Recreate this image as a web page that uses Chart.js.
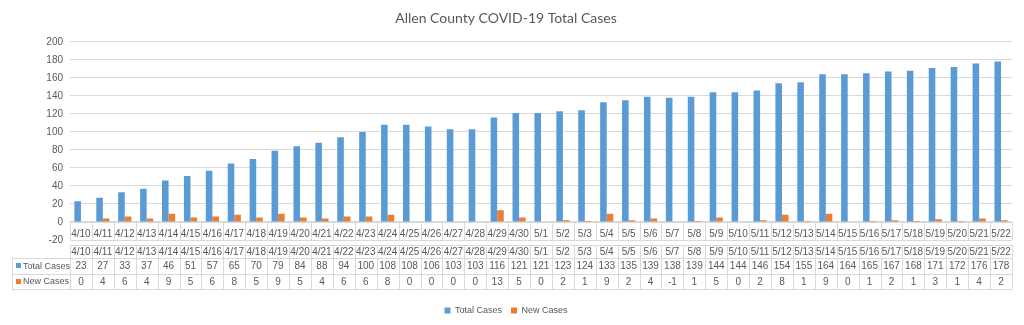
<!DOCTYPE html>
<html>
<head>
<meta charset="utf-8">
<title>Allen County COVID-19 Total Cases</title>
<script src="https://cdn.jsdelivr.net/npm/chart.js@4.4.1/dist/chart.umd.min.js"></script>
<style>
    html, body { margin: 0; padding: 0; background: #fff; }
    #wrap { width: 1024px; height: 325px; position: relative; }
</style>
</head>
<body>
<div id="wrap"><canvas id="casesChart" width="1024" height="325"></canvas></div>
<script>
const dates = [
    '4/10', '4/11', '4/12', '4/13', '4/14', '4/15', '4/16', '4/17', '4/18', '4/19', '4/20',
    '4/21', '4/22', '4/23', '4/24', '4/25', '4/26', '4/27', '4/28', '4/29', '4/30',
    '5/1', '5/2', '5/3', '5/4', '5/5', '5/6', '5/7', '5/8', '5/9', '5/10', '5/11',
    '5/12', '5/13', '5/14', '5/15', '5/16', '5/17', '5/18', '5/19', '5/20', '5/21', '5/22'
];
const totalCases = [
    23, 27, 33, 37, 46, 51, 57, 65, 70, 79, 84, 88, 94, 100, 108, 108, 106, 103, 103, 116, 121,
    121, 123, 124, 133, 135, 139, 138, 139, 144, 144, 146, 154, 155, 164, 164, 165, 167, 168, 171, 172, 176, 178
];
const newCases = [
    0, 4, 6, 4, 9, 5, 6, 8, 5, 9, 5, 4, 6, 6, 8, 0, 0, 0, 0, 13, 5,
    0, 2, 1, 9, 2, 4, -1, 1, 5, 0, 2, 8, 1, 9, 0, 1, 2, 1, 3, 1, 4, 2
];
const yTicks = { min: -20, max: 200, step: 20 };

const COLORS = {
    total: '#5B9BD5',
    fresh: '#ED7D31',
    grid: '#D9D9D9',
    text: '#595959',
};
const TITLE_FONT = 'Lato, "Liberation Sans", sans-serif';
const FONT = '"Liberation Sans", Arial, sans-serif';

// draws the category labels on the zero line and the Excel-style data table
const dataTablePlugin = {
    id: 'dataTable',
    afterDatasetsDraw(chart) {
        const { ctx, chartArea, scales: { x, y } } = chart;
        const n = dates.length;
        const cellW = (chartArea.right - chartArea.left) / n;
        const zeroY = y.getPixelForValue(0);
        const minY = y.getPixelForValue(yTicks.min);
        ctx.save();
        ctx.font = '10px ' + FONT;
        ctx.fillStyle = COLORS.text;
        ctx.textAlign = 'center';
        ctx.textBaseline = 'middle';

        // axis line + tick marks + labels at zero
        ctx.strokeStyle = COLORS.grid;
        ctx.lineWidth = 1;
        ctx.beginPath();
        ctx.moveTo(chartArea.left, Math.round(zeroY) + 0.5);
        ctx.lineTo(chartArea.right, Math.round(zeroY) + 0.5);
        for (let i = 0; i <= n; i++) {
            const px = Math.round(chartArea.left + i * cellW) + 0.5;
            ctx.moveTo(px, zeroY);
            ctx.lineTo(px, minY);
        }
        ctx.stroke();
        dates.forEach((d, i) => ctx.fillText(d, x.getPixelForValue(i), zeroY + 12));

        // data table
        const top = chartArea.bottom + 5;
        const rowH = [13, 16, 15];
        const r1 = top + rowH[0], r2 = r1 + rowH[1], r3 = r2 + rowH[2];
        const legendLeft = 12;
        ctx.beginPath();
        ctx.moveTo(chartArea.left, top + 0.5); ctx.lineTo(chartArea.right, top + 0.5);
        ctx.moveTo(legendLeft, r1 + 0.5); ctx.lineTo(chartArea.right, r1 + 0.5);
        ctx.moveTo(legendLeft, r2 + 0.5); ctx.lineTo(chartArea.right, r2 + 0.5);
        ctx.moveTo(legendLeft, r3 + 0.5); ctx.lineTo(chartArea.right, r3 + 0.5);
        ctx.moveTo(legendLeft + 0.5, r1); ctx.lineTo(legendLeft + 0.5, r3);
        for (let i = 0; i <= n; i++) {
            const px = Math.round(chartArea.left + i * cellW) + 0.5;
            ctx.moveTo(px, top); ctx.lineTo(px, r3);
        }
        ctx.stroke();

        const rows = [
            { label: 'Total Cases', color: COLORS.total, values: totalCases, y: (r1 + r2) / 2 },
            { label: 'New Cases', color: COLORS.fresh, values: newCases, y: (r2 + r3) / 2 },
        ];
        dates.forEach((d, i) => ctx.fillText(d, x.getPixelForValue(i), (top + r1) / 2 + 0.5));
        rows.forEach(row => {
            ctx.fillStyle = row.color;
            ctx.fillRect(legendLeft + 4, Math.round(row.y) - 3, 5, 5);
            ctx.fillStyle = COLORS.text;
            ctx.textAlign = 'left';
            ctx.font = '9px ' + FONT;
            ctx.fillText(row.label, legendLeft + 11, row.y + 0.5);
            ctx.font = '10px ' + FONT;
            ctx.textAlign = 'center';
            row.values.forEach((v, i) => ctx.fillText(String(v), x.getPixelForValue(i), row.y + 0.5));
        });
        ctx.restore();
    }
};

new Chart(document.getElementById('casesChart'), {
    type: 'bar',
    data: {
        labels: dates,
        datasets: [
            { label: 'Total Cases', data: totalCases, backgroundColor: COLORS.total },
            { label: 'New Cases', data: newCases, backgroundColor: COLORS.fresh },
        ]
    },
    options: {
        responsive: false,
        animation: false,
        layout: { padding: { left: 0, right: 12, top: 0, bottom: 0 } },
        datasets: { bar: { categoryPercentage: 0.6, barPercentage: 1.0 } },
        plugins: {
            title: {
                display: true,
                text: 'Allen County COVID-19 Total Cases',
                color: COLORS.text,
                font: { family: TITLE_FONT, size: 14, weight: 'normal' },
                padding: { top: 10, bottom: 15 },
            },
            legend: {
                position: 'bottom',
                labels: {
                    color: COLORS.text,
                    font: { family: FONT, size: 9 },
                    boxWidth: 6, boxHeight: 6, padding: 9,
                },
            },
            tooltip: { enabled: false },
        },
        scales: {
            x: {
                grid: { display: false },
                border: { display: false },
                ticks: { display: false },
                afterFit: scale => { scale.height = 57; },
            },
            y: {
                min: yTicks.min, max: yTicks.max,
                grid: { color: COLORS.grid, drawTicks: false },
                border: { display: false },
                ticks: {
                    stepSize: yTicks.step,
                    color: COLORS.text,
                    font: { family: FONT, size: 10 },
                    padding: 7,
                },
                afterFit: scale => { scale.width = 70; },
            }
        }
    },
    plugins: [dataTablePlugin]
});
</script>
</body>
</html>
